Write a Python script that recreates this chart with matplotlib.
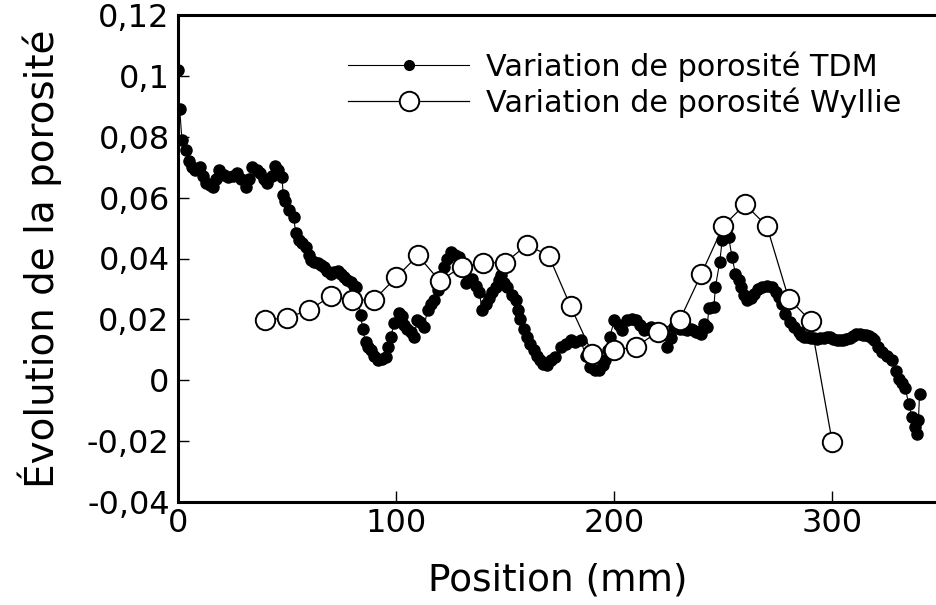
import numpy as np
import matplotlib.pyplot as plt
from matplotlib.ticker import FuncFormatter

# --- data ---
tdm_x = [0, 0.8, 1.8, 3.5, 5, 6.5, 8, 10, 11.5, 13, 14.5, 16, 17.5, 19, 21, 23, 25, 27,
         29, 31, 32.5, 34, 36, 37.6, 39.5, 41, 43, 44.5, 46, 47.6, 48.3, 49, 50.8, 53,
         54, 55.4, 57, 58.6, 60, 61, 62.5, 64, 65.5, 66.9, 68.5, 70, 71.5, 73.2, 74.6,
         76, 77.6, 79.2, 80.5, 81.5, 83.8, 84.6, 86, 87.2, 88.4, 90, 91.5, 93.5, 95.3,
         96.5, 97.6, 99, 101.2, 102.5, 103.5, 105, 106.7, 108, 109.8, 111, 112.8, 114.4,
         116, 117.4, 119, 120.5, 122, 123.5, 125, 127, 129, 130.5, 132, 133.5, 135,
         136.5, 138, 139.6, 141, 142.6, 144, 145.7, 147, 148, 149.5, 151, 153, 154.8,
         156, 157, 158.5, 160, 161.5, 163, 164.5, 166, 167.5, 169, 171, 173, 175.5, 178,
         180, 182, 184.6, 187, 189, 191, 193, 195, 196, 197, 198, 200, 202, 203.7, 206,
         208, 209.8, 212, 213.6, 215.2, 216.7, 219, 221, 222.8, 224.3, 226, 227.4, 228.7,
         230, 231.8, 233.5, 235, 236.2, 237.5, 238.5, 239.6, 241, 242.6, 243.4, 245.7,
         246.4, 248.4, 249.5, 251, 252.5, 254, 255.6, 257, 258, 259.5, 261, 262.5, 264,
         266, 267.8, 270, 272.4, 274, 275.4, 277, 278.5, 280.5, 282.3, 284.5, 285.8, 287,
         288.5, 290, 291.5, 293, 294.5, 296, 297.5, 299, 300.5, 302, 303.5, 305, 306.5,
         308, 309.5, 311, 312.5, 314, 315.5, 317, 318, 319, 321, 322.8, 325, 327.4, 329,
         330.4, 332, 333.5, 335, 336.5, 338, 338.8, 339.5, 340]
tdm_y = [0.102, 0.089, 0.079, 0.0757, 0.072, 0.070, 0.069, 0.070, 0.067, 0.0647, 0.064,
         0.0636, 0.066, 0.069, 0.0675, 0.0669, 0.067, 0.068, 0.066, 0.0636, 0.066, 0.070,
         0.069, 0.068, 0.066, 0.0647, 0.067, 0.0704, 0.069, 0.0669, 0.061, 0.059, 0.056,
         0.0537, 0.0483, 0.046, 0.045, 0.0438, 0.041, 0.0395, 0.039, 0.0384, 0.038,
         0.0373, 0.036, 0.035, 0.0355, 0.036, 0.035, 0.034, 0.033, 0.0323, 0.031,
         0.0307, 0.0214, 0.017, 0.0126, 0.011, 0.0099, 0.008, 0.0066, 0.007, 0.0077,
         0.011, 0.0142, 0.0187, 0.022, 0.021, 0.018, 0.017, 0.0159, 0.0142, 0.0197,
         0.019, 0.0175, 0.023, 0.025, 0.0263, 0.0296, 0.034, 0.0373, 0.040, 0.042, 0.041,
         0.0405, 0.036, 0.0318, 0.033, 0.0334, 0.031, 0.029, 0.023, 0.025, 0.0269, 0.029,
         0.0307, 0.033, 0.0345, 0.032, 0.0307, 0.028, 0.0263, 0.023, 0.020, 0.017,
         0.0142, 0.012, 0.0099, 0.008, 0.0066, 0.0055, 0.0049, 0.0066, 0.0077, 0.011,
         0.012, 0.0132, 0.0125, 0.0132, 0.008, 0.0044, 0.0035, 0.0033, 0.005, 0.0066,
         0.010, 0.0142, 0.0197, 0.018, 0.0164, 0.0197, 0.020, 0.0197, 0.018, 0.0164,
         0.017, 0.0175, 0.016, 0.0155, 0.0153, 0.011, 0.014, 0.0175, 0.0172, 0.017,
         0.0167, 0.0164, 0.017, 0.0165, 0.016, 0.0158, 0.0153, 0.0186, 0.0175, 0.0236,
         0.024, 0.0307, 0.0389, 0.046, 0.047, 0.047, 0.0405, 0.035, 0.033, 0.0307, 0.028,
         0.0263, 0.027, 0.0285, 0.030, 0.0307, 0.031, 0.0307, 0.029, 0.0274, 0.025,
         0.0219, 0.019, 0.0175, 0.016, 0.015, 0.0142, 0.0141, 0.014, 0.0138, 0.0137,
         0.0139, 0.014, 0.0141, 0.0142, 0.0137, 0.0132, 0.0131, 0.0132, 0.0135, 0.014,
         0.0147, 0.0153, 0.0152, 0.015, 0.0148, 0.0145, 0.014, 0.0132, 0.011, 0.0093,
         0.008, 0.0066, 0.003, 0.0005, -0.001, -0.0027, -0.0077, -0.012, -0.0153,
         -0.0175, -0.013, -0.0044]

wyllie_x = list(range(40, 301, 10))
wyllie_y = [0.0197, 0.0206, 0.023, 0.0276, 0.0263, 0.0265, 0.0338, 0.041, 0.0326,
            0.0373, 0.0386, 0.0386, 0.0445, 0.0409, 0.0243, 0.0087, 0.0099, 0.011,
            0.0159, 0.0197, 0.035, 0.0507, 0.0578, 0.0506, 0.0268, 0.0196, -0.0204]

x_ticks = [0, 100, 200, 300]
y_ticks = [-0.04, -0.02, 0, 0.02, 0.04, 0.06, 0.08, 0.1, 0.12]


def fr_fmt(v, _pos):
    if abs(v) < 1e-9:
        return "0"
    s = f"{v:.2f}".rstrip("0")
    return s.replace(".", ",")


fig = plt.figure(figsize=(9.37, 6.05), dpi=100)
ax = fig.add_axes([178 / 937, 103 / 605, 1 - 178 / 937, 487 / 605])

ax.plot(tdm_x, tdm_y, color="black", lw=0.8, marker="o", ms=8,
        mfc="black", mec="black", label="Variation de porosité TDM")
ax.plot(wyllie_x, wyllie_y, color="black", lw=0.9, marker="o", ms=14,
        mfc="white", mec="black", mew=1.4, label="Variation de porosité Wyllie")

ax.set_xlim(0, 348)
ax.set_ylim(-0.04, 0.12)
ax.set_xticks(x_ticks)
ax.set_yticks(y_ticks)
ax.yaxis.set_major_formatter(FuncFormatter(fr_fmt))

for side in ("left", "bottom", "top"):
    ax.spines[side].set_linewidth(2.2)
ax.spines["right"].set_visible(False)
ax.tick_params(direction="in", length=8, width=1, labelsize=23, pad=6,
               top=False, right=False)
ax.tick_params(axis="x", pad=4)

ax.set_xlabel("Position (mm)", fontsize=27, labelpad=17)
ax.set_ylabel("Évolution de la porosité", fontsize=28, labelpad=18)

leg = ax.legend(loc="upper left", bbox_to_anchor=(348 / 937, 1 - 51 / 605),
                bbox_transform=fig.transFigure, frameon=False, fontsize=21.8,
                handlelength=4, handletextpad=0.55, labelspacing=0.2,
                borderpad=0, borderaxespad=0)
leg.legend_handles[0].set_markersize(7)
leg.legend_handles[1].set_markersize(14)

fig.savefig("out.png", dpi=100)
